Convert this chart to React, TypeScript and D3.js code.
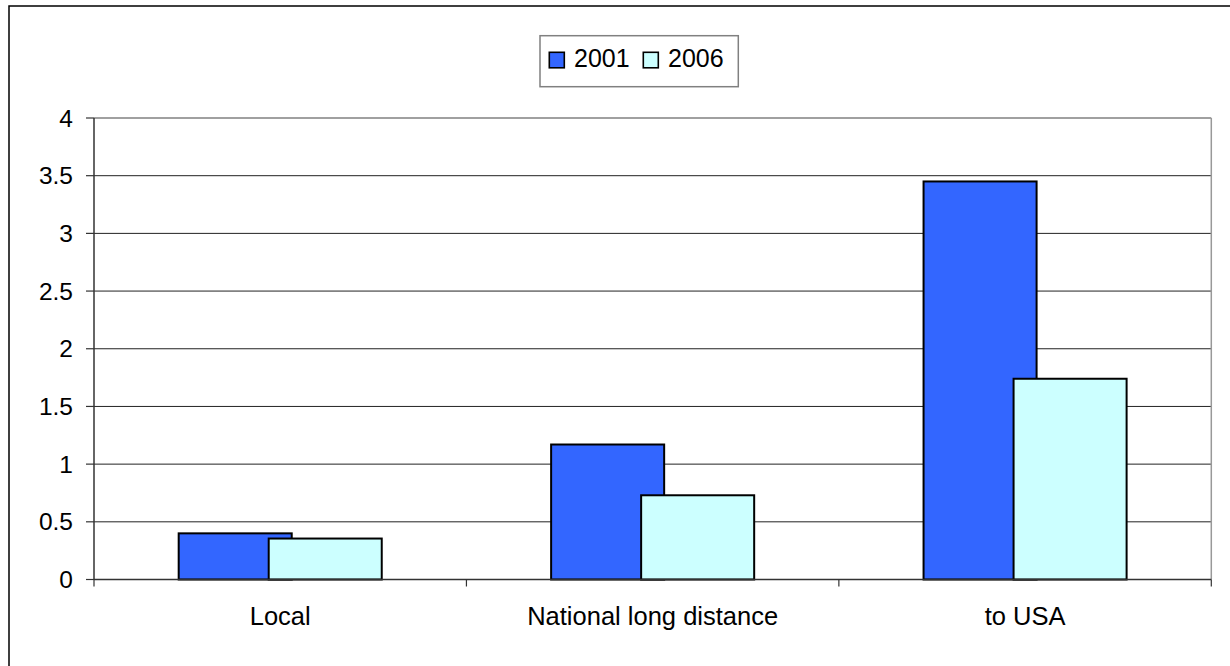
import React from "react";
import * as d3 from "d3";

const categories = ["Local", "National long distance", "to USA"];
const series2001 = [0.4, 1.17, 3.45];
const series2006 = [0.355, 0.73, 1.74];
const seriesNames = ["2001", "2006"];
const yTicks = [0, 0.5, 1, 1.5, 2, 2.5, 3, 3.5, 4];

const W = 1230;
const H = 666;
const FONT = "'Liberation Sans', Arial, sans-serif";

export default function App() {
  const left = 94;
  const right = 1211.3;
  const top = 118;
  const bottom = 579.5;

  const x = d3.scaleBand<string>().domain(categories).range([left, right]).padding(0);
  const y = d3.scaleLinear().domain([0, 4]).range([bottom, top]);
  const bw = x.bandwidth();
  const barW = bw * 0.3035;
  const step = bw * 0.2417;
  const groupW = step + barW;
  const offset = (bw - groupW) / 2;

  const colors = ["#3366FF", "#CCFFFF"];
  const data = [series2001, series2006];

  return (
    <svg
      width={W}
      height={H}
      style={{ position: "absolute", left: 0, top: 0, background: "#fff" }}
      fontFamily={FONT}
    >
      <rect x={0} y={0} width={W} height={H} fill="#fff" />
      {/* outer chart border */}
      <rect x={9} y={6} width={1400} height={900} fill="none" stroke="#000" strokeWidth={1.5} />

      {/* gridlines */}
      {yTicks.filter((t) => t > 0 && t < 4).map((t) => (
        <line key={t} x1={left} x2={right} y1={y(t)} y2={y(t)} stroke="#222" strokeWidth={1} />
      ))}
      {/* plot area top/right border */}
      <line x1={left} x2={right} y1={y(4)} y2={y(4)} stroke="#808080" strokeWidth={1.5} />
      <line x1={right} x2={right} y1={y(4)} y2={bottom} stroke="#999" strokeWidth={1.5} />

      {/* bars */}
      {data.map((vals, si) =>
        categories.map((c, ci) => {
          const bx = (x(c) as number) + offset + si * step;
          return (
            <rect
              key={`${si}-${ci}`}
              x={bx}
              y={y(vals[ci])}
              width={barW}
              height={bottom - y(vals[ci])}
              fill={colors[si]}
              stroke="#000"
              strokeWidth={2}
            />
          );
        })
      )}

      {/* axes */}
      <line x1={left} x2={left} y1={y(4)} y2={bottom} stroke="#333" strokeWidth={1.5} />
      <line x1={left} x2={right} y1={bottom} y2={bottom} stroke="#333" strokeWidth={1.5} />
      {yTicks.map((t) => (
        <g key={t}>
          <line x1={left - 8} x2={left} y1={y(t)} y2={y(t)} stroke="#333" strokeWidth={1.2} />
          <text x={73} y={y(t) + 8.5} textAnchor="end" fontSize={24.5} fill="#000">
            {String(t)}
          </text>
        </g>
      ))}
      {[...categories.map((c) => x(c) as number), right].map((xx, i) => (
        <line key={i} x1={xx} x2={xx} y1={bottom} y2={bottom + 7} stroke="#333" strokeWidth={1.2} />
      ))}
      {categories.map((c) => (
        <text
          key={c}
          x={(x(c) as number) + bw / 2}
          y={624.5}
          textAnchor="middle"
          fontSize={25.5}
          fill="#000"
        >
          {c}
        </text>
      ))}

      {/* legend */}
      <rect x={540} y={35.7} width={198.3} height={51} fill="#fff" stroke="#808080" strokeWidth={1.5} />
      {seriesNames.map((n, i) => {
        const lx = i === 0 ? 549.3 : 643.3;
        return (
          <g key={n}>
            <rect x={lx} y={52.3} width={15} height={15.5} fill={colors[i]} stroke="#000" strokeWidth={1.6} />
            <text x={lx + 24.7} y={66.7} fontSize={25} fill="#000">
              {n}
            </text>
          </g>
        );
      })}
    </svg>
  );
}
